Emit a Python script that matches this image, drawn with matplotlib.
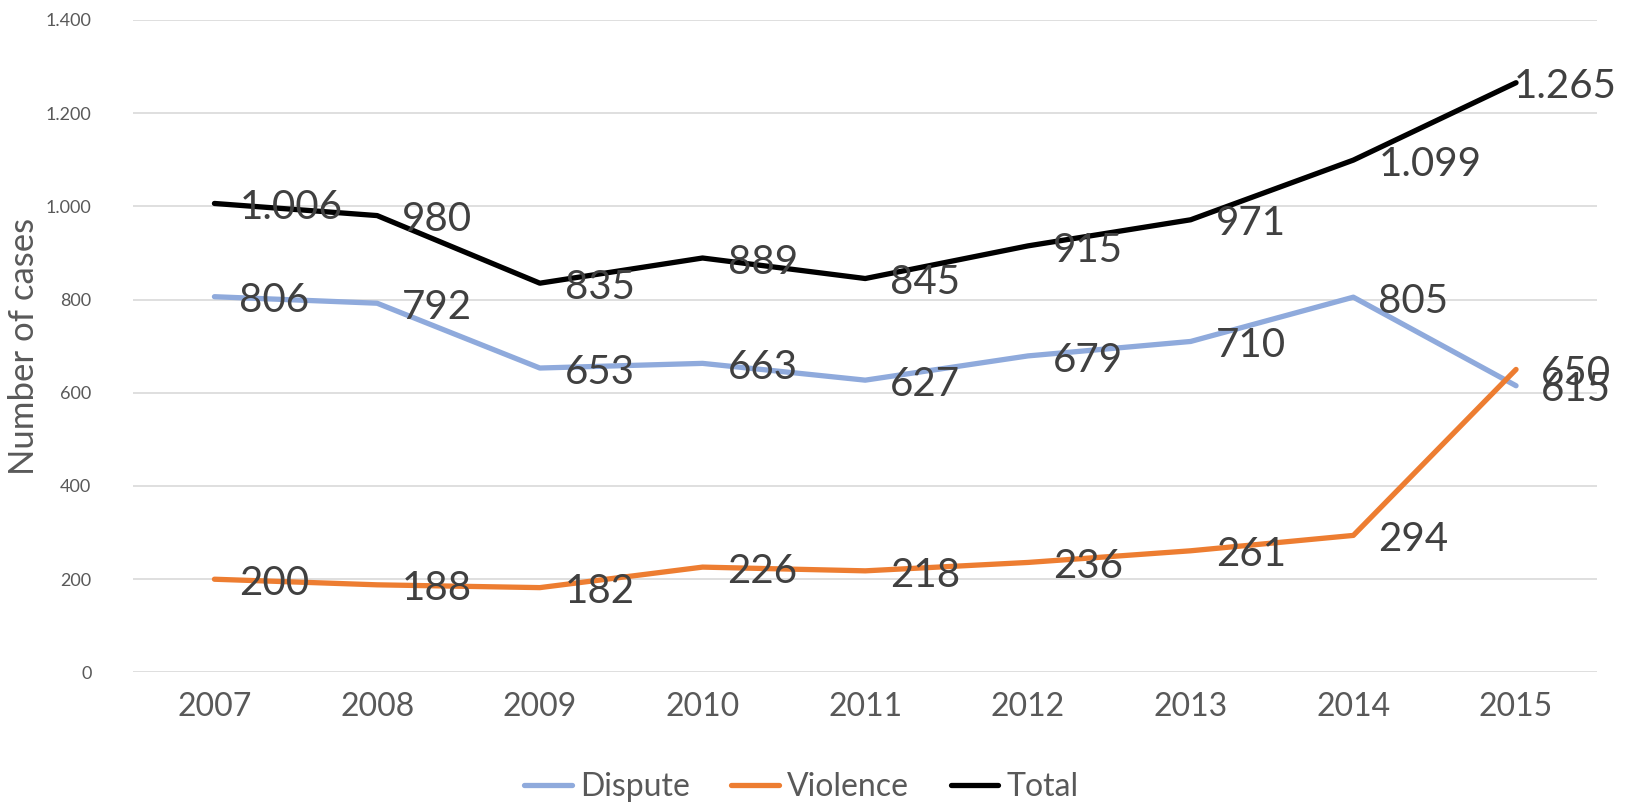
import numpy as np
import matplotlib
matplotlib.use("Agg")
import matplotlib.pyplot as plt

plt.rcParams['font.family'] = ['Lato', 'DejaVu Sans']

years = ['2007', '2008', '2009', '2010', '2011', '2012', '2013', '2014', '2015']
dispute = [806, 792, 653, 663, 627, 679, 710, 805, 615]
violence = [200, 188, 182, 226, 218, 236, 261, 294, 650]
total = [1006, 980, 835, 889, 845, 915, 971, 1099, 1265]

series = [
    ('Dispute', dispute, '#8FAADC'),
    ('Violence', violence, '#ED7D31'),
    ('Total', total, '#000000'),
]


def fmt(v):
    # thousands separator is a dot in the original
    return '{:,}'.format(v).replace(',', '.')


fig = plt.figure(figsize=(16.35, 8.07), dpi=100)
ax = fig.add_axes([0.0814, 0.1667, 0.8956, 0.8088])

x = np.arange(len(years))
for name, vals, col in series:
    ax.plot(x, vals, color=col, lw=3.8, label=name, solid_capstyle='round', zorder=3)

for name, vals, col in series:
    for i, v in enumerate(vals):
        dx = 18
        if name == 'Total' and i == len(vals) - 1:
            dx = -2
        ax.annotate(fmt(v), (x[i], v), xytext=(dx, -3), textcoords='offset points',
                    ha='left', va='center', fontsize=29, color='#404040', zorder=4)

ax.set_xlim(-0.5, len(years) - 0.5)
ax.set_ylim(0, 1400)
ax.set_yticks(np.arange(0, 1401, 200))
ax.set_yticklabels([fmt(v) for v in range(0, 1401, 200)])
ax.set_xticks(x)
ax.set_xticklabels(years)
ax.tick_params(axis='y', labelsize=13, colors='#595959', length=0, pad=30)
ax.tick_params(axis='x', labelsize=23, colors='#595959', length=0, pad=14)
ax.grid(axis='y', color='#D9D9D9', lw=1.2, zorder=0)
for s in ax.spines.values():
    s.set_visible(False)
ax.set_ylabel('Number of cases', fontsize=25, color='#595959', labelpad=4)

leg = fig.legend(loc='center', bbox_to_anchor=(0.49, 0.025), ncol=3, frameon=False,
                 fontsize=23, handlelength=1.5, handletextpad=0.25, columnspacing=1.3)
for t in leg.get_texts():
    t.set_color('#595959')

fig.savefig('out.png', dpi=100)
